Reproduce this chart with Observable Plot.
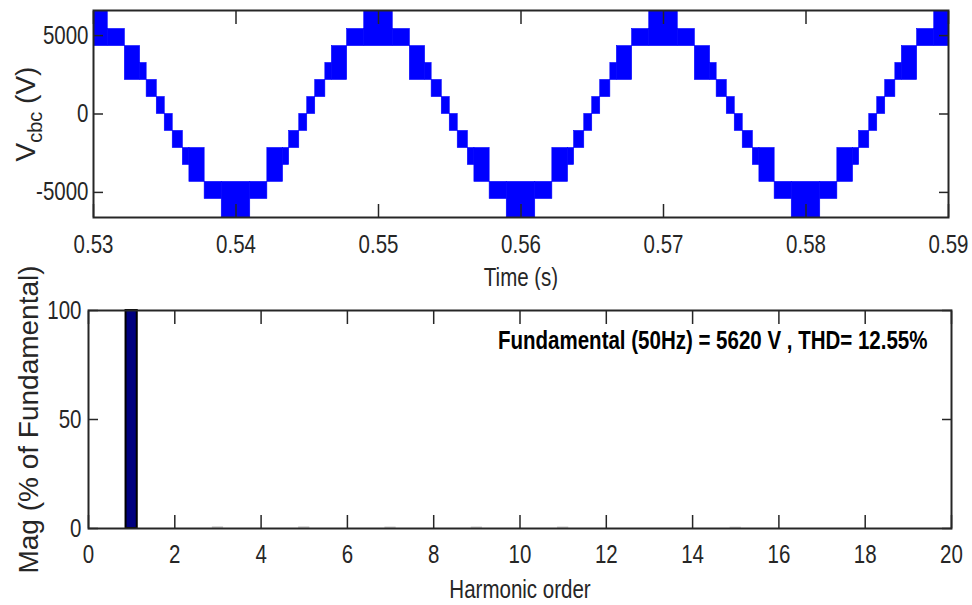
<!DOCTYPE html>
<html>
<head>
<meta charset="utf-8">
<script src="https://cdn.jsdelivr.net/npm/d3@7"></script>
<script src="https://cdn.jsdelivr.net/npm/@observablehq/plot@0.6"></script>
<style>
  html, body { margin: 0; padding: 0; background: #ffffff; }
  #wrap { position: relative; width: 972px; height: 605px; overflow: hidden; background: #fff; }
  #top, #bottom { position: absolute; left: 0; }
  #top { top: 0; }
  #bottom { top: 290px; }
</style>
</head>
<body>
<div id="wrap"><div id="top"></div><div id="bottom"></div></div>
<script>
// ---------- data ----------
// Top panel: staircase (multilevel) voltage with PWM switching between levels
const timeTicks = [0.53, 0.54, 0.55, 0.56, 0.57, 0.58, 0.59];
const voltTicks = [-5000, 0, 5000];
// voltage of each level, index = level + 6
const levelVolts = [-6600, -5420, -4330, -3250, -2170, -1080, 0, 1080, 2170, 3250, 4330, 5420, 6600];
// times of the positive peaks visible in the window (one cycle = 0.02 s)
const cyclePeaks = [0.53, 0.55, 0.57, 0.59];
// switching bands within one cycle, as offsets (s) from the peak, with low/high level
const bandStart = [-0.0010, 0.0010, 0.0022, 0.00327, 0.00373, 0.00444, 0.0050, 0.00556, 0.00627, 0.00673, 0.0078, 0.0090, 0.0110, 0.0122, 0.0133, 0.01373, 0.01444, 0.0150, 0.01556, 0.01627, 0.01673, 0.0178];
const bandEnd   = [ 0.0010, 0.0022, 0.00327, 0.00373, 0.00444, 0.0050, 0.00556, 0.00627, 0.00673, 0.0078, 0.0090, 0.0110, 0.0122, 0.0133, 0.01373, 0.01444, 0.0150, 0.01556, 0.01627, 0.01673, 0.0178, 0.0190];
const bandLow   = [4, 4, 2, 2, 1, 0, -1, -2, -3, -4, -5, -6, -5, -4, -3, -2, -1, 0, 1, 2, 2, 4];
const bandHigh  = [6, 5, 4, 3, 2, 1, 0, -1, -2, -2, -4, -4, -4, -2, -2, -1, 0, 1, 2, 3, 4, 5];

// Bottom panel: harmonic spectrum
const harmonicOrder = [1, 3, 5, 7, 9, 11, 15];
const harmonicMag = [100, 0.8, 0.8, 0.7, 0.7, 0.7, 0.6];
const orderTicks = [0, 2, 4, 6, 8, 10, 12, 14, 16, 18, 20];
const magTicks = [0, 50, 100];
const annotation = "Fundamental (50Hz) = 5620 V , THD= 12.55%";

// ---------- build tables ----------
const bands = [];
for (const p of cyclePeaks) {
  for (let i = 0; i < bandStart.length; i++) {
    bands.push({t0: p + bandStart[i], t1: p + bandEnd[i], v0: levelVolts[bandLow[i] + 6], v1: levelVolts[bandHigh[i] + 6]});
  }
}
const harm = harmonicOrder.map((h, i) => ({order: h, mag: harmonicMag[i]}));

const FONT = '"Liberation Sans", Arial, sans-serif';
const AX = "#262626";

// condense horizontal text (the reference uses a narrow Helvetica look)
function squeeze(svg, k) {
  for (const t of svg.querySelectorAll("text")) {
    const tr = t.getAttribute("transform") || "";
    if (tr.includes("rotate")) continue;
    const len = t.getComputedTextLength();
    if (len > 0) {
      t.setAttribute("textLength", (len * k).toFixed(1));
      t.setAttribute("lengthAdjust", "spacingAndGlyphs");
    }
  }
}

// ---------- top chart ----------
const topChart = Plot.plot({
  width: 972, height: 290,
  marginLeft: 93, marginRight: 24, marginTop: 10, marginBottom: 73,
  x: {domain: [0.53, 0.59]},
  y: {domain: [-6600, 6600]},
  style: {fontFamily: FONT, fontSize: "25px", color: AX, background: "white", overflow: "visible"},
  marks: [
    Plot.rect(bands, {x1: "t0", x2: "t1", y1: "v0", y2: "v1", fill: "#0000ff", stroke: "#0000ff", strokeWidth: 0.6, clip: true}),
    Plot.axisX({anchor: "bottom", ticks: timeTicks, tickSize: -13, tickPadding: 31, tickFormat: d3.format(".2f"), label: null, strokeWidth: 1.5}),
    Plot.axisX({anchor: "top", ticks: timeTicks, tickSize: -13, tickFormat: () => "", label: null, strokeWidth: 1.5}),
    Plot.axisY({anchor: "left", ticks: voltTicks, tickSize: -10, tickPadding: 15, tickFormat: d => String(d), label: null, strokeWidth: 1.5}),
    Plot.axisY({anchor: "right", ticks: voltTicks, tickSize: -10, tickFormat: () => "", label: null, strokeWidth: 1.5}),
    Plot.frame({stroke: AX, strokeWidth: 2}),
    Plot.text(["Time (s)"], {frameAnchor: "bottom", lineAnchor: "top", dy: 51, text: d => d, fontSize: 25, fill: AX}),
    Plot.text(["Vcbc (V)"], {frameAnchor: "left", rotate: -90, lineAnchor: "top", textAnchor: "middle", dx: -78, text: d => d, fontSize: 28, fill: AX})
  ]
});
document.getElementById("top").appendChild(topChart);
squeeze(topChart, 0.82);

// subscript for V_cbc
for (const t of topChart.querySelectorAll("text")) {
  if (t.textContent === "Vcbc (V)") {
    t.textContent = "";
    const ns = "http://www.w3.org/2000/svg";
    const a = document.createElementNS(ns, "tspan"); a.textContent = "V";
    const b = document.createElementNS(ns, "tspan"); b.textContent = "cbc";
    b.setAttribute("font-size", "20"); b.setAttribute("dy", "7");
    const c = document.createElementNS(ns, "tspan"); c.textContent = " (V)";
    c.setAttribute("dy", "-7");
    t.appendChild(a); t.appendChild(b); t.appendChild(c);
  }
}

// ---------- bottom chart ----------
const botChart = Plot.plot({
  width: 972, height: 315,
  marginLeft: 88, marginRight: 21, marginTop: 20, marginBottom: 77,
  x: {domain: [0, 20]},
  y: {domain: [0, 100]},
  style: {fontFamily: FONT, fontSize: "25px", color: AX, background: "white", overflow: "visible"},
  marks: [
    Plot.rectY(harm, {x1: d => d.order - 0.13, x2: d => d.order + 0.13, y: "mag",
      fill: d => d.mag > 10 ? "#00007f" : "#d0d0d0",
      stroke: d => d.mag > 10 ? "#000000" : "none", strokeWidth: 2}),
    Plot.axisX({anchor: "bottom", ticks: orderTicks, tickSize: -13, tickPadding: 30, tickFormat: d => String(d), label: null, strokeWidth: 1.5}),
    Plot.axisX({anchor: "top", ticks: orderTicks, tickSize: -13, tickFormat: () => "", label: null, strokeWidth: 1.5}),
    Plot.axisY({anchor: "left", ticks: magTicks, tickSize: -10, tickPadding: 17, tickFormat: d => String(d), label: null, strokeWidth: 1.5}),
    Plot.axisY({anchor: "right", ticks: magTicks, tickSize: -10, tickFormat: () => "", label: null, strokeWidth: 1.5}),
    Plot.frame({stroke: AX, strokeWidth: 2}),
    Plot.text([annotation], {frameAnchor: "top-right", dx: -24, dy: 30, lineAnchor: "middle", textAnchor: "end", text: d => d, fontWeight: "bold", fontSize: 25, fill: "#000"}),
    Plot.text(["Harmonic order"], {frameAnchor: "bottom", lineAnchor: "top", dy: 52, text: d => d, fontSize: 25, fill: AX}),
    Plot.text(["Mag (% of Fundamental)"], {frameAnchor: "left", rotate: -90, lineAnchor: "top", textAnchor: "middle", dx: -70, text: d => d, fontSize: 28, fill: AX})
  ]
});
document.getElementById("bottom").appendChild(botChart);
squeeze(botChart, 0.82);
</script>
</body>
</html>
